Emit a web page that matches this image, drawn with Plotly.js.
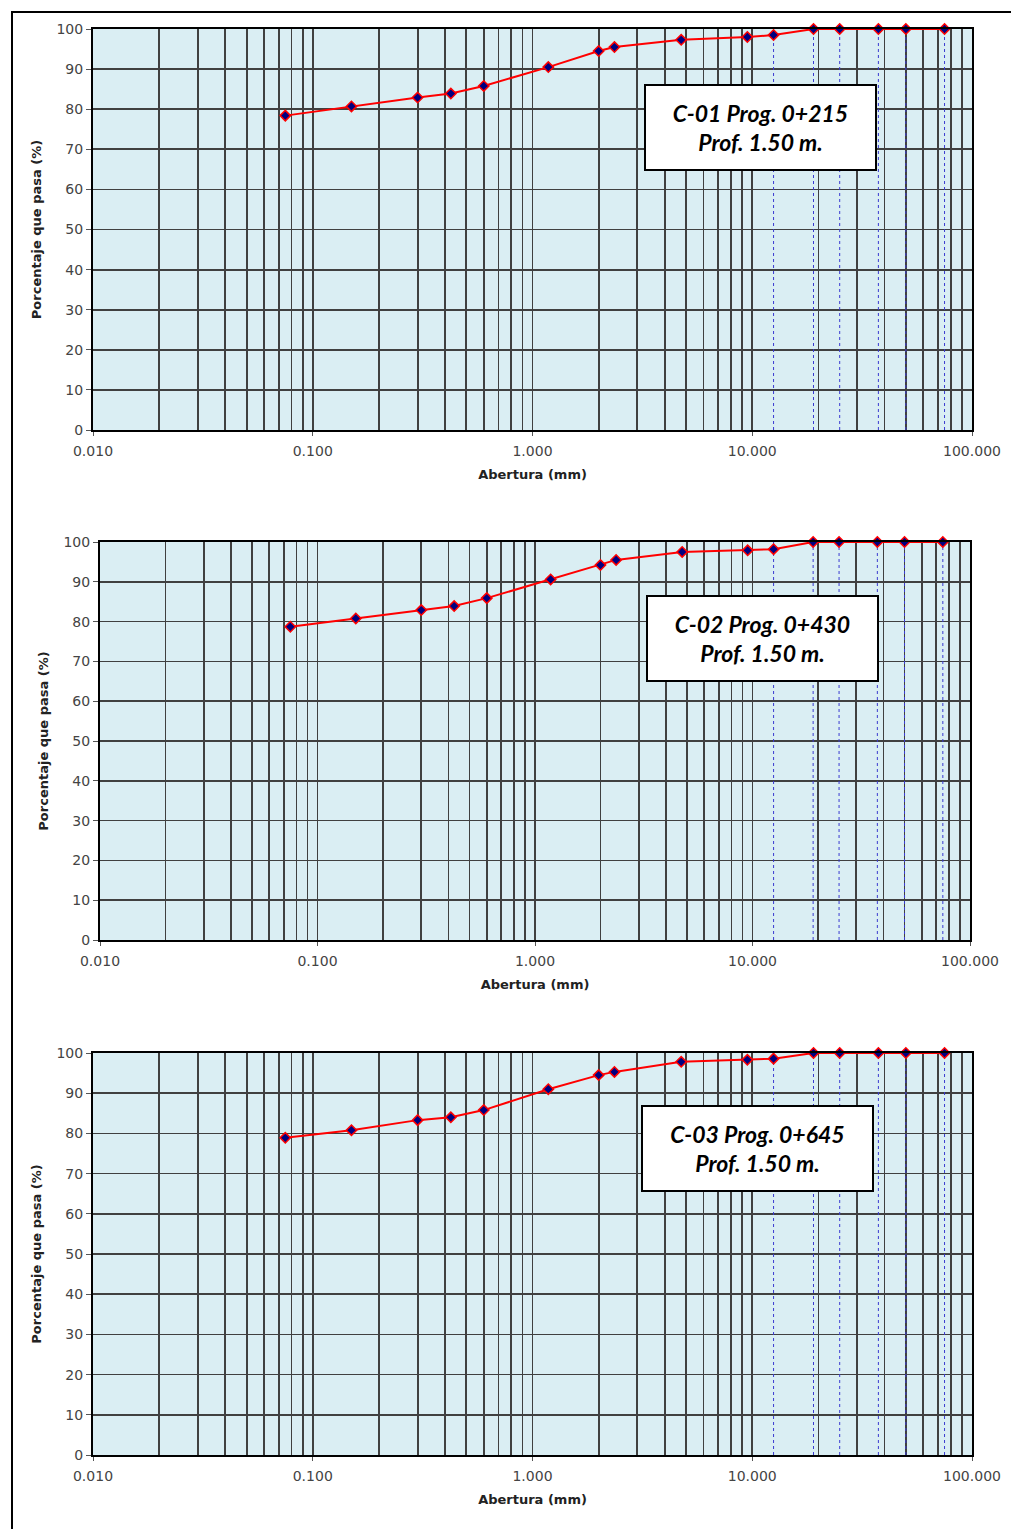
<!DOCTYPE html>
<html>
<head>
<meta charset="utf-8">
<script src="https://cdn.plot.ly/plotly-3.0.1.min.js"></script>
<style>
  html, body { margin: 0; padding: 0; background: #fff; }
  #wrap { position: relative; width: 1011px; height: 1529px; overflow: hidden; }
  #frame { position: absolute; left: 11px; top: 11px; width: 1100px; height: 1600px;
           border-left: 2px solid #000; border-top: 2px solid #000; pointer-events: none; }
  #chart { position: absolute; left: 0; top: 0; width: 1011px; height: 1529px; }
</style>
</head>
<body>
<div id="wrap">
  <div id="chart"></div>
  <div id="frame"></div>
</div>
<script>
// ---- data ----
const sieves = [0.075, 0.15, 0.3, 0.425, 0.6, 1.18, 2.0, 2.36, 4.75, 9.5, 12.5, 19, 25, 37.5, 50, 75];
const pass1 = [78.4, 80.7, 82.9, 83.9, 85.8, 90.5, 94.5, 95.5, 97.3, 98.0, 98.5, 100, 100, 100, 100, 100];
const pass2 = [78.7, 80.8, 82.9, 83.9, 85.9, 90.6, 94.2, 95.5, 97.5, 97.9, 98.2, 100, 100, 100, 100, 100];
const pass3 = [78.9, 80.8, 83.3, 84.0, 85.8, 91.0, 94.5, 95.3, 97.8, 98.3, 98.6, 100, 100, 100, 100, 100];
const dottedSieves = [12.5, 19, 25, 37.5, 50, 75];
const labels1 = ["C-01 Prog. 0+215", "C-02 Prog. 0+430", "C-03 Prog. 0+645"];
const labels2 = ["Prof. 1.50 m.", "Prof. 1.50 m.", "Prof. 1.50 m."];
const xTickVals = [0.01, 0.1, 1, 10, 100];
const xTickText = ["0.010", "0.100", "1.000", "10.000", "100.000"];
const xTitle = "Abertura (mm)";
const yTitle = "Porcentaje que pasa (%)";

// ---- layout geometry (pixels) ----
const W = 1011, H = 1529;
const panels = [
  {x0: 93, x1: 972, y0: 29, y1: 430, box: [760, 128]},
  {x0: 100, x1: 970, y0: 542, y1: 940, box: [762, 638.5]},
  {x0: 93, x1: 972, y0: 1053, y1: 1455, box: [757.5, 1148.5]}
];
const series = [pass1, pass2, pass3];

const font = "DejaVu Sans, Arial, sans-serif";
const gridCol = "#404040";
const traces = [];
const layout = {
  width: W, height: H,
  margin: {l: 0, r: 0, t: 0, b: 0},
  paper_bgcolor: "rgba(0,0,0,0)",
  plot_bgcolor: "#DAEEF3",
  showlegend: false,
  font: {family: font, size: 13, color: "#222"},
  shapes: [],
  annotations: []
};

panels.forEach((p, i) => {
  const n = i === 0 ? "" : String(i + 1);
  const xa = "xaxis" + n, ya = "yaxis" + n;
  const xr = "x" + n, yr = "y" + n;
  // dotted blue drop lines at coarse sieves
  dottedSieves.forEach(s => {
    traces.push({
      type: "scatter", mode: "lines", x: [s, s], y: [0, 100],
      xaxis: xr, yaxis: yr, hoverinfo: "skip",
      line: {color: "#3a3ad0", width: 1, dash: "dot"}
    });
  });
  traces.push({
    type: "scatter", mode: "lines+markers",
    x: sieves, y: series[i], xaxis: xr, yaxis: yr,
    line: {color: "#FF0000", width: 2},
    marker: {symbol: "diamond", size: 8, color: "#000080", line: {color: "#FF0000", width: 1.5}},
    cliponaxis: false, hoverinfo: "x+y"
  });
  layout[xa] = {
    type: "log", range: [-2, 2],
    domain: [p.x0 / W, p.x1 / W],
    anchor: yr,
    tickmode: "array", tickvals: xTickVals, ticktext: xTickText,
    ticks: "outside", ticklen: 4, tickcolor: "#555", tickwidth: 1,
    ticklabelstandoff: 3,
    showgrid: true, gridcolor: gridCol, gridwidth: 1.8,
    minor: {dtick: "D1", showgrid: true, gridcolor: gridCol, gridwidth: 1.8, ticks: ""},
    showline: true, linecolor: "#000", linewidth: 2, mirror: true,
    zeroline: false,
    tickfont: {family: font, size: 14, color: "#444"},
    title: {text: "<b>" + xTitle + "</b>", font: {family: font, size: 13, color: "#222"}, standoff: 12}
  };
  layout[ya] = {
    range: [0, 100], dtick: 10,
    domain: [1 - p.y1 / H, 1 - p.y0 / H],
    anchor: xr,
    ticks: "outside", ticklen: 5, tickcolor: "#555", tickwidth: 1,
    showgrid: true, gridcolor: gridCol, gridwidth: 1.8,
    showline: true, linecolor: "#000", linewidth: 2, mirror: true,
    zeroline: false,
    tickfont: {family: font, size: 14, color: "#444"},
    title: {text: "<b>" + yTitle + "</b>", font: {family: font, size: 13, color: "#222"}, standoff: 12}
  };
  layout.annotations.push({
    xref: "paper", yref: "paper",
    x: p.box[0] / W, y: 1 - p.box[1] / H,
    xanchor: "center", yanchor: "middle",
    width: 229, height: 83,
    text: "<b><i>" + labels1[i] + "<br>" + labels2[i] + "</i></b>",
    showarrow: false, align: "center",
    bgcolor: "#FFFFFF", bordercolor: "#000", borderwidth: 2, borderpad: 0,
    font: {family: "Lato, Open Sans, sans-serif", size: 23, color: "#000"}
  });
});

Plotly.newPlot("chart", traces, layout, {displayModeBar: false, staticPlot: true});
</script>
</body>
</html>
